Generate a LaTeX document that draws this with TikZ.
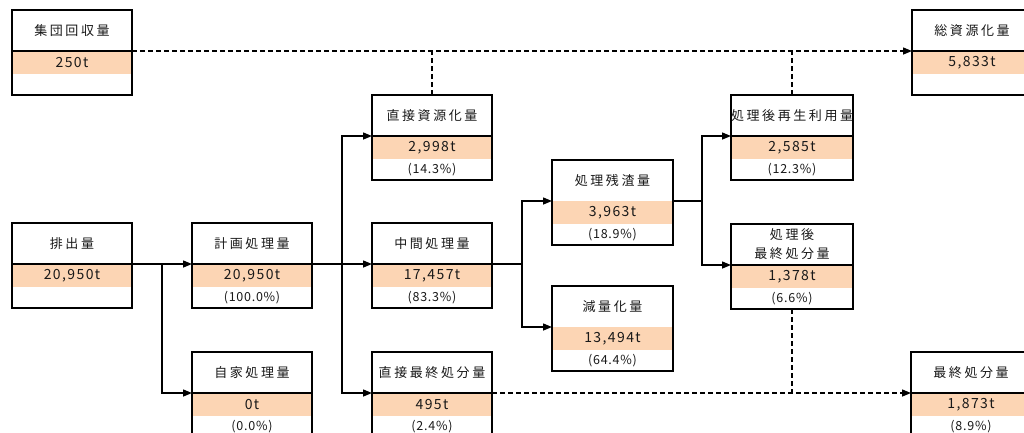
\documentclass[tikz,border=0pt]{standalone}
\usepackage{fontspec}
\usetikzlibrary{arrows.meta}
\newfontfamily\jpT[LetterSpace=20]{Noto Sans CJK JP}
\newfontfamily\jpV[LetterSpace=10]{Noto Sans CJK JP}
\newfontfamily\jpP[LetterSpace=6]{Noto Sans CJK JP}
\definecolor{band}{RGB}{252,213,180}
\definecolor{ink}{RGB}{25,25,25}
\tikzset{
  every node/.style={inner sep=0pt, outer sep=0pt, text=ink},
  ttl/.style={anchor=north west, minimum height=41pt, align=center, font=\jpT\fontsize{13}{19}\selectfont},
  val/.style={anchor=north west, minimum height=23pt, fill=band, font=\jpV\fontsize{14}{16}\selectfont},
  pct/.style={anchor=north west, minimum height=21pt, font=\jpP\fontsize{12.5}{14}\selectfont},
  thinbox/.style={line width=1.5pt},
  medbox/.style={line width=2pt},
  thickbox/.style={line width=2.8pt},
  divider/.style={line width=1.5pt},
  nodiv/.style={draw=none},
  conn/.style={line width=1.4pt, -{Triangle[length=9pt,width=7pt]}},
  dashconn/.style={line width=1.4pt, dash pattern=on 5pt off 3pt, -{Triangle[length=9pt,width=7pt]}},
  dashline/.style={line width=1.4pt, dash pattern=on 5pt off 3pt},
}
\newcommand\cbox[9]{%
  \node[ttl, minimum width=#4pt] (#1-t) at (#2,#3) {#6};
  \node[val, minimum width=#4pt] (#1-v) at (#1-t.south west) {#7};
  \node[pct, minimum width=#4pt] (#1-p) at (#1-v.south west) {#8};
  \draw[#5] (#1-t.north west) rectangle (#1-p.south east);
  \draw[#9] (#1-v.north west) -- (#1-v.north east);
}
\begin{document}
\begin{tikzpicture}[x=1pt, y=-1pt]
\useasboundingbox (0,0) rectangle (1024,432);
\clip (0,0) rectangle (1024,432);
\fill[white] (0,0) rectangle (1024,432);

\cbox{shudan}{12}{10}{120}{medbox}{集団回収量}{250t}{}{divider}
\cbox{sou}{912}{10}{120}{thickbox}{総資源化量}{5,833t}{}{divider}
\cbox{hai}{12}{223}{120}{thickbox}{排出量}{20,950t}{}{divider}
\cbox{keikaku}{192}{223}{120}{thinbox}{計画処理量}{20,950t}{(100.0\%)}{divider}
\cbox{jika}{192}{352}{120}{thinbox}{自家処理量}{0t}{(0.0\%)}{divider}
\cbox{chokushi}{372}{95}{120}{medbox}{直接資源化量}{2,998t}{(14.3\%)}{divider}
\cbox{chukan}{372}{223}{120}{thinbox}{中間処理量}{17,457t}{(83.3\%)}{divider}
\cbox{chokusai}{372}{352}{120}{thinbox}{直接最終処分量}{495t}{(2.4\%)}{divider}
\cbox{zansa}{552}{160}{121}{thickbox}{処理残渣量}{3,963t}{(18.9\%)}{nodiv}
\cbox{genryo}{552}{286}{121}{thickbox}{減量化量}{13,494t}{(64.4\%)}{nodiv}
\cbox{saisei}{731}{95}{122}{thickbox}{処理後再生利用量}{2,585t}{(12.3\%)}{divider}
\cbox{shobun}{731}{224}{122}{medbox}{処理後\\最終処分量}{1,378t}{(6.6\%)}{divider}
\cbox{saishu}{911}{352}{120}{thickbox}{最終処分量}{1,873t}{(8.9\%)}{divider}

% solid connectors
\draw[conn] (hai-v.north east) -- (keikaku-v.north west);
\draw[conn] (hai-v.north east) -- ++(30,0) |- (jika-v.north west);
\draw[conn] (keikaku-v.north east) -- (chukan-v.north west);
\draw[conn] (keikaku-v.north east) -- ++(30,0) |- (chokushi-v.north west);
\draw[conn] (keikaku-v.north east) -- ++(30,0) |- (chokusai-v.north west);
\draw[conn] (chukan-v.north east) -- ++(30,0) |- (zansa-v.north west);
\draw[conn] (chukan-v.north east) -- ++(30,0) |- (genryo-v.north west);
\draw[conn] (zansa-v.north east) -- ++(29,0) |- (saisei-v.north west);
\draw[conn] (zansa-v.north east) -- ++(29,0) |- (shobun-v.north west);

% dashed connectors
\draw[dashconn] (shudan-v.north east) -- (sou-v.north west);
\draw[dashline] (chokushi-t.north) -- (chokushi-t.north |- shudan-v.north east);
\draw[dashline] (saisei-t.north) -- (saisei-t.north |- shudan-v.north east);
\draw[dashconn] (chokusai-v.north east) -- (saishu-v.north west);
\draw[dashline] (shobun-p.south) -- (shobun-p.south |- saishu-v.north west);
\end{tikzpicture}
\end{document}
